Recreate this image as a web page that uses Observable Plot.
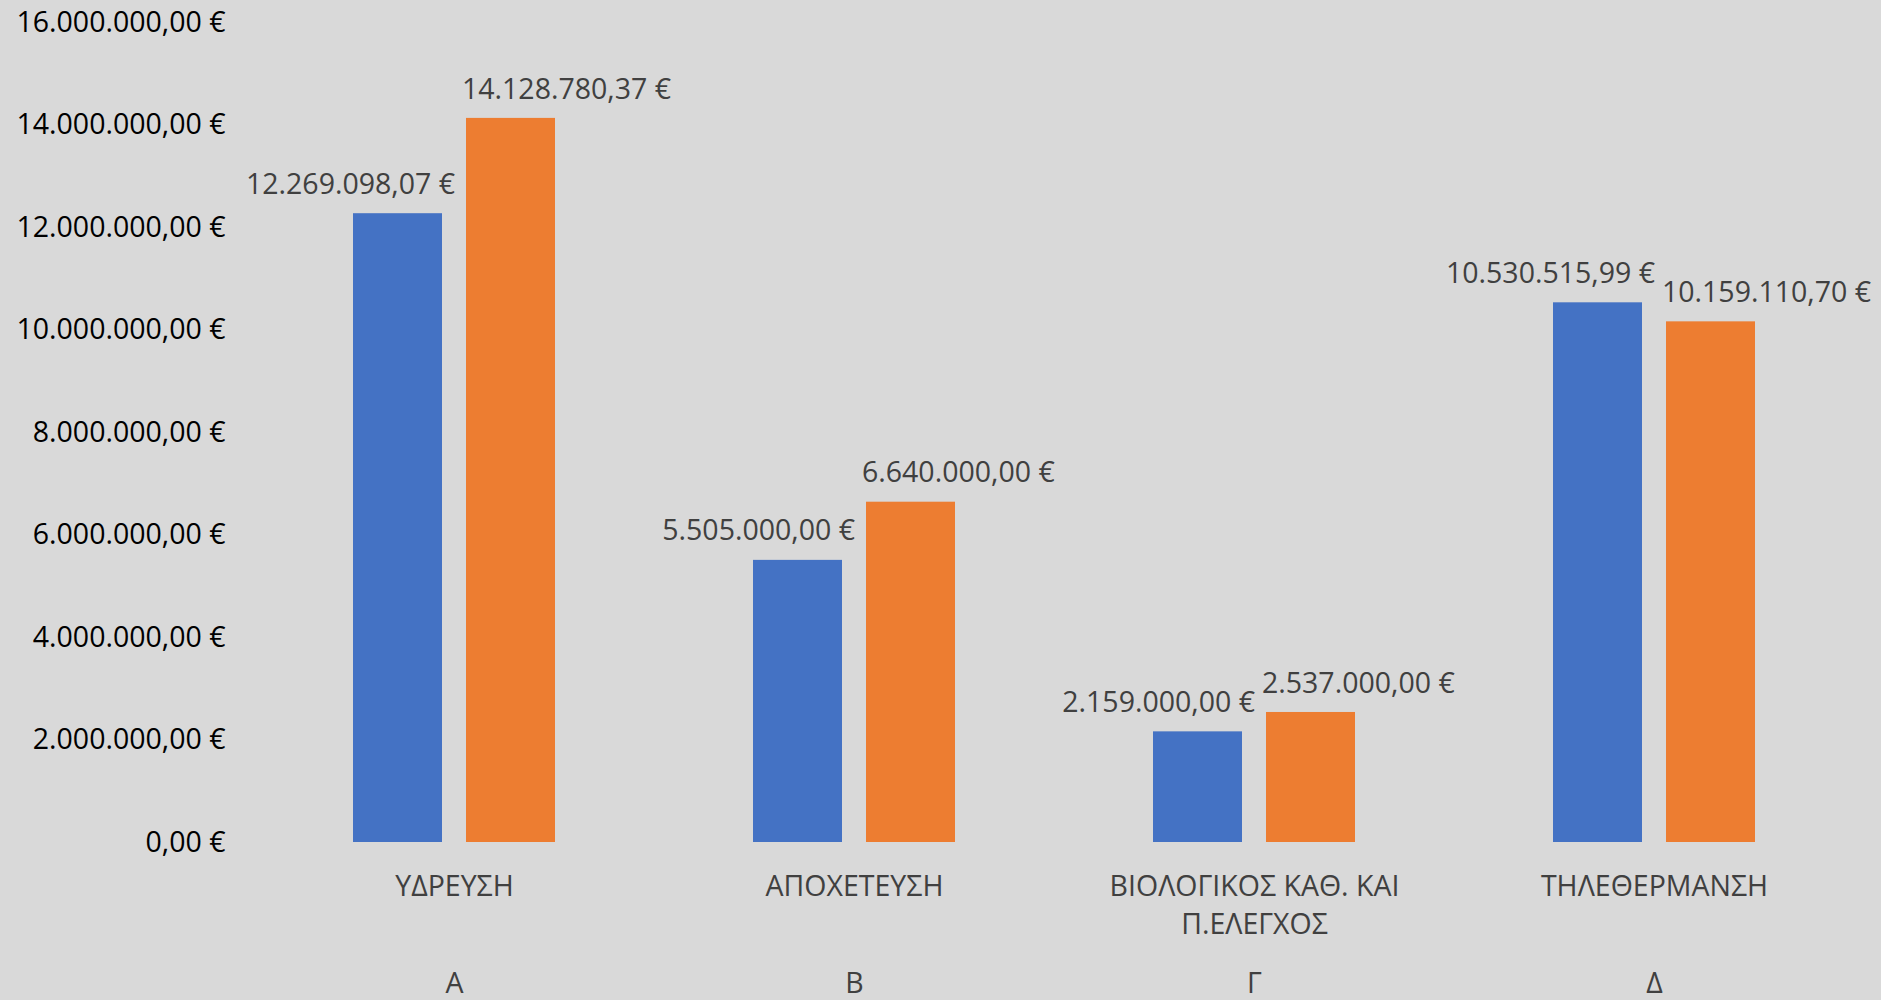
<!DOCTYPE html>
<html><head><meta charset="utf-8">
<script src="https://cdn.jsdelivr.net/npm/d3@7"></script>
<script src="https://cdn.jsdelivr.net/npm/@observablehq/plot@0.6"></script>
<style>
html,body{margin:0;padding:0;background:#d9d9d9;}
#chart svg{display:block;}
</style></head><body><div id="chart"></div>
<script>
const groups = ["Α", "Β", "Γ", "Δ"];
const categories = ["ΥΔΡΕΥΣΗ", "ΑΠΟΧΕΤΕΥΣΗ", "ΒΙΟΛΟΓΙΚΟΣ ΚΑΘ. ΚΑΙ\nΠ.ΕΛΕΓΧΟΣ", "ΤΗΛΕΘΕΡΜΑΝΣΗ"];
const series = ["Σειρά1", "Σειρά2"];
const values1 = [12269098.07, 5505000.00, 2159000.00, 10530515.99];
const values2 = [14128780.37, 6640000.00, 2537000.00, 10159110.70];
const yTicks = [0, 2000000, 4000000, 6000000, 8000000, 10000000, 12000000, 14000000, 16000000];
const colors = ["#4472C4", "#ED7D31"];

const locale = d3.formatLocale({decimal: ",", thousands: ".", grouping: [3], currency: ["", " €"]});
const fmt = locale.format("$,.2f");

const data = [];
categories.forEach((c, i) => {
  data.push({category: c, series: series[0], value: values1[i]});
  data.push({category: c, series: series[1], value: values2[i]});
});
const catData = categories.map((c, i) => ({category: c, group: groups[i]}));

const FS = 28.5;
const chart = Plot.plot({
  width: 1881,
  height: 1000,
  marginLeft: 252,
  marginRight: 26,
  marginTop: 22,
  marginBottom: 158,
  style: {background: "#d9d9d9", fontFamily: "'Open Sans', sans-serif", fontSize: FS + "px", color: "#000"},
  fx: {domain: categories, padding: 0, axis: null},
  x: {domain: series, paddingInner: 0.21, paddingOuter: 0.864, axis: null},
  y: {domain: [0, 16000000], ticks: yTicks, tickFormat: fmt, tickSize: 0, tickPadding: 29, label: null},
  color: {domain: series, range: colors},
  marks: [
    Plot.barY(data, {fx: "category", x: "series", y: "value", fill: "series"}),
    Plot.text(data.filter(d => d.series === series[0]), {
      fx: "category", x: "series", y: "value", text: d => fmt(d.value),
      textAnchor: "end", dx: 57, dy: -29, fontSize: FS, fill: "#404040"
    }),
    Plot.text(data.filter(d => d.series === series[1]), {
      fx: "category", x: "series", y: "value", text: d => fmt(d.value),
      textAnchor: "start", dx: -49, dy: -29, fontSize: FS, fill: "#404040"
    }),
    Plot.text(catData, {
      fx: "category", frameAnchor: "bottom", text: "category",
      lineAnchor: "top", dy: 27, lineHeight: 1.33, fontSize: FS, fill: "#404040"
    }),
    Plot.text(catData, {
      fx: "category", frameAnchor: "bottom", text: "group",
      lineAnchor: "middle", dy: 141, fontSize: FS, fill: "#404040"
    })
  ]
});
document.getElementById("chart").appendChild(chart);
</script>
</body></html>
